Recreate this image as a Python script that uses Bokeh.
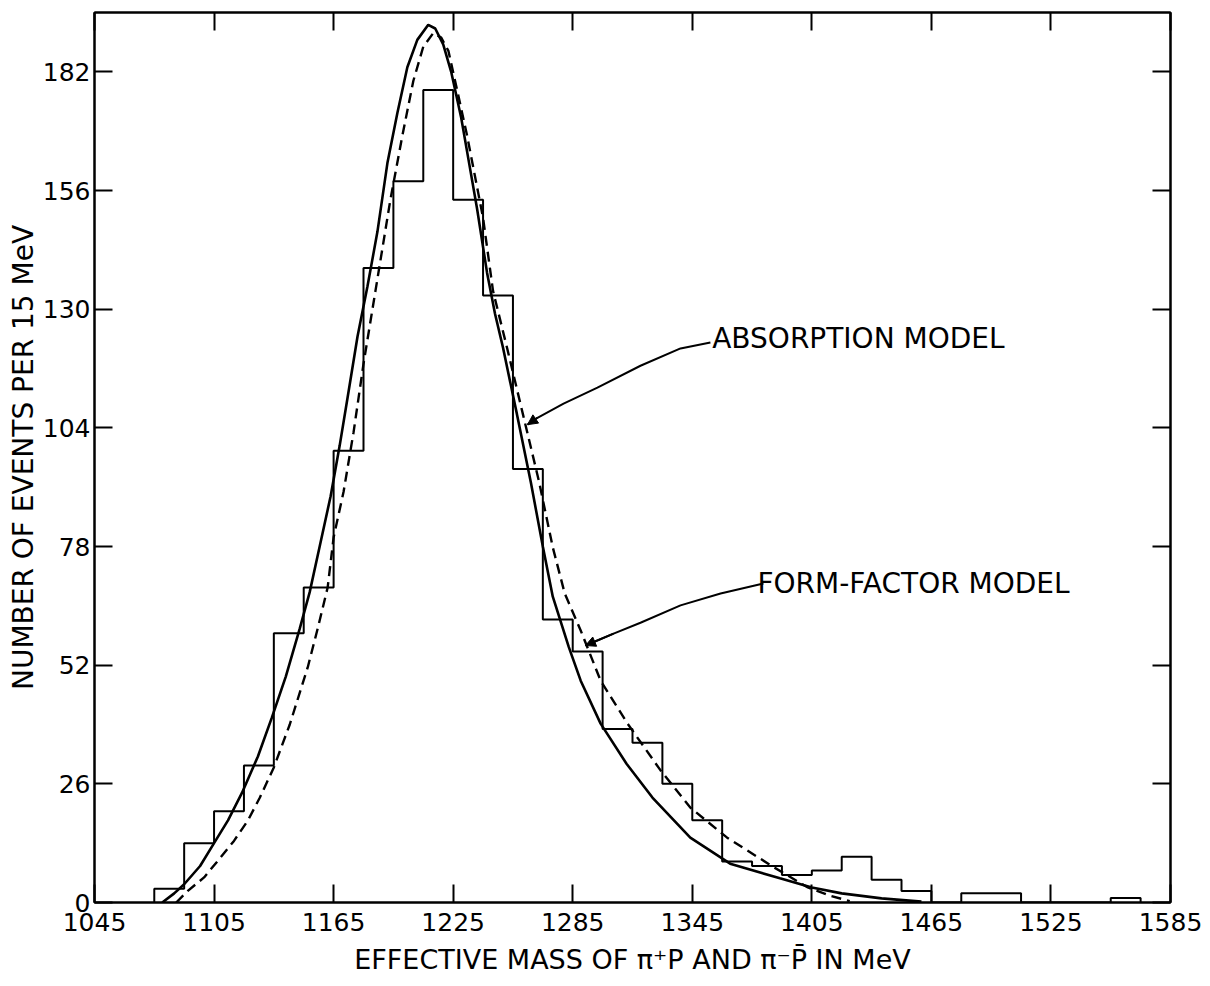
from bokeh.plotting import figure
from bokeh.models import (LinearAxis, FixedTicker, Range1d, Label, Arrow, NormalHead,
                          CustomJSTickFormatter)
from bokeh.embed import file_html
from bokeh.resources import INLINE

# ---------------- data ----------------
BIN_WIDTH = 15  # MeV per bin
bin_left = [1075, 1090, 1105, 1120, 1135, 1150, 1165, 1180, 1195, 1210, 1225, 1240,
            1255, 1270, 1285, 1300, 1315, 1330, 1345, 1360, 1375, 1390, 1405, 1420,
            1435, 1450, 1465, 1480, 1495, 1510, 1525, 1540, 1555]
counts = [3, 13, 20, 30, 59, 69, 99, 139, 158, 178, 154, 133,
          95, 62, 55, 38, 35, 26, 18, 9, 8, 6, 7, 10,
          5, 2.5, 0, 2, 2, 0, 0, 0, 1]

# form-factor model (solid curve)
ff_mass = [1079, 1085, 1090, 1098, 1105, 1112, 1119, 1127, 1134, 1141, 1148, 1153,
           1158, 1163.5, 1168, 1172, 1177, 1182, 1187, 1192, 1197, 1202, 1207, 1212.5,
           1216, 1220, 1224, 1229, 1233, 1237, 1242, 1246, 1250, 1257, 1264, 1270,
           1275, 1283, 1289, 1299, 1312, 1325, 1344, 1364, 1389, 1405, 1420, 1440, 1460]
ff_events = [0, 2, 4, 8, 13, 18, 24, 32, 40.5, 49.5, 60, 68,
             78, 89, 100, 110.6, 124, 135, 147, 162, 173, 183, 189, 192.3,
             191.5, 188, 182, 172, 162, 152, 138, 129, 121.6, 107, 92, 78,
             67, 56, 48.6, 39.2, 30.4, 23, 14.2, 8.5, 5.3, 3.3, 2.0, 0.9, 0.2]

# absorption model (dashed curve)
abs_mass = [1086, 1092, 1100, 1107, 1115, 1122, 1128, 1135, 1143, 1152, 1157, 1162,
            1165, 1170, 1175, 1180, 1186, 1193.5, 1199.5, 1205, 1210, 1215, 1219,
            1222.6, 1227, 1232, 1236, 1240, 1245, 1252, 1260, 1268, 1275, 1281, 1289,
            1299, 1312.5, 1329, 1344, 1362.5, 1386, 1403, 1414, 1424]
abs_events = [0, 2.6, 5.5, 9.2, 13.5, 18, 23, 29.6, 39, 51.5, 60, 69,
              80, 90, 103, 118, 134, 154, 168, 180, 187.5, 190.5, 189.5,
              186.6, 178, 168, 159, 150, 134, 121.6, 107, 92.4, 77.8, 67.7, 59.6,
              48.6, 39.2, 29, 20.8, 14.2, 7.7, 3.3, 1.5, 0.3]

x_ticks = [1045, 1105, 1165, 1225, 1285, 1345, 1405, 1465, 1525, 1585]
y_ticks = [0, 26, 52, 78, 104, 130, 156, 182]

# annotations (data coordinates)
abs_label = ("ABSORPTION MODEL", 1355, 123.5)
abs_leader_x = [1354.1, 1339.1, 1319, 1297.4, 1280.4, 1267.3, 1262.3]
abs_leader_y = [122.7, 121.4, 117.6, 112.8, 109.3, 106.2, 104.7]
ff_label = ("FORM-FACTOR MODEL", 1377.7, 69.9)
ff_leader_x = [1380.7, 1359.2, 1339.1, 1319, 1305.5, 1291.4]
ff_leader_y = [69.9, 67.7, 65.1, 61.3, 58.9, 56.3]

FONT = "DejaVu Sans"

# ---------------- figure ----------------
p = figure(frame_width=1076, frame_height=890,
           x_range=Range1d(1045, 1585), y_range=Range1d(0, 195),
           output_backend="svg", toolbar_location=None,
           min_border_left=94, min_border_right=40, min_border_top=12, min_border_bottom=84,
           background_fill_color="white", border_fill_color="white")
p.grid.visible = False
p.outline_line_color = "black"
p.outline_line_width = 2

for ax, ticks in ((p.xaxis[0], x_ticks), (p.yaxis[0], y_ticks)):
    ax.ticker = FixedTicker(ticks=ticks)
    ax.major_tick_in = 18
    ax.major_tick_out = 0
    ax.minor_tick_in = 0
    ax.minor_tick_out = 0
    ax.major_tick_line_width = 2
    ax.axis_line_width = 2
    ax.axis_line_color = "black"
    ax.major_tick_line_color = "black"
    ax.major_label_text_font = FONT
    ax.major_label_text_font_size = "25px"
    ax.major_label_text_color = "black"
    ax.axis_label_text_font = FONT
    ax.axis_label_text_font_style = "normal"
    ax.axis_label_text_color = "black"

p.xaxis.axis_label = "EFFECTIVE MASS OF \u03c0\u207aP AND \u03c0\u207bP\u0304 IN MeV"
p.xaxis.axis_label_text_font_size = "27px"
p.xaxis.major_label_standoff = 10
p.xaxis.axis_label_standoff = 10
p.yaxis.axis_label = "NUMBER OF EVENTS PER 15 MeV"
p.yaxis.axis_label_text_font_size = "28px"
p.yaxis.major_label_standoff = 4
p.yaxis.axis_label_standoff = 0

blank = CustomJSTickFormatter(code="return ''")
top = LinearAxis(ticker=FixedTicker(ticks=x_ticks), formatter=blank,
                 major_tick_in=18, major_tick_out=0, minor_tick_in=0, minor_tick_out=0,
                 major_tick_line_width=2, axis_line_width=2,
                 major_label_text_font_size="0px", major_label_standoff=0)
right = LinearAxis(ticker=FixedTicker(ticks=y_ticks), formatter=blank,
                   major_tick_in=18, major_tick_out=0, minor_tick_in=0, minor_tick_out=0,
                   major_tick_line_width=2, axis_line_width=2,
                   major_label_text_font_size="0px", major_label_standoff=0)
p.add_layout(top, "above")
p.add_layout(right, "right")

# histogram as a step outline
step_x = [bin_left[0]] + bin_left + [bin_left[-1] + BIN_WIDTH]
step_y = [0] + counts + [0]
p.step(x=step_x, y=step_y, mode="after", line_color="black", line_width=2)

# model curves
p.line(ff_mass, ff_events, line_color="black", line_width=2.6)
p.line(abs_mass, abs_events, line_color="black", line_width=2.4, line_dash="10 6")

# annotations
p.line(abs_leader_x, abs_leader_y, line_color="black", line_width=2)
p.add_layout(Arrow(end=NormalHead(size=10, fill_color="black", line_color="black"),
                   x_start=abs_leader_x[-2], y_start=abs_leader_y[-2],
                   x_end=abs_leader_x[-1], y_end=abs_leader_y[-1],
                   line_color="black", line_width=2))
p.line(ff_leader_x, ff_leader_y, line_color="black", line_width=2)
p.add_layout(Arrow(end=NormalHead(size=10, fill_color="black", line_color="black"),
                   x_start=ff_leader_x[-2], y_start=ff_leader_y[-2],
                   x_end=ff_leader_x[-1], y_end=ff_leader_y[-1],
                   line_color="black", line_width=2))

for txt, lx, ly in (abs_label, ff_label):
    p.add_layout(Label(x=lx, y=ly, text=txt, text_font=FONT, text_font_size="28px",
                       text_baseline="middle", text_align="left", text_color="black"))

open("out.html", "w").write(file_html(p, INLINE))
